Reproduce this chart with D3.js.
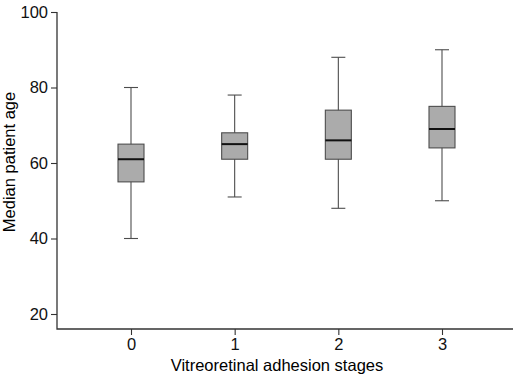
<!DOCTYPE html>
<html>
<head>
<meta charset="utf-8">
<script src="https://cdn.jsdelivr.net/npm/d3@7"></script>
<style>
  body { margin: 0; background: #fff; }
  text { font-family: "Liberation Sans", Arial, sans-serif; }
</style>
</head>
<body>
<div id="chart"></div>
<script>
// Data
const stages = ["0", "1", "2", "3"];
const whiskerLow = [40, 51, 48, 50];
const q1 = [55, 61, 61, 64];
const medians = [61, 65, 66, 69];
const q3 = [65, 68, 74, 75];
const whiskerHigh = [80, 78, 88, 90];
const yTicks = [20, 40, 60, 80, 100];

const width = 516, height = 376;
const svg = d3.select("#chart").append("svg")
    .attr("width", width)
    .attr("height", height);

// Scales
const x = d3.scaleLinear().domain([0, 3]).range([131, 442]);
const y = d3.scaleLinear().domain([20, 100]).range([314, 12]);
const axisLeft = 57, axisBottom = 329, axisRight = 513;

const boxes = stages.map((s, i) => ({
    stage: s, lo: whiskerLow[i], q1: q1[i], med: medians[i], q3: q3[i], hi: whiskerHigh[i], i: i
}));

const boxW = 26, capW = 14;
const lineColor = "#4d4d4d";

const g = svg.append("g");

// Whiskers
g.selectAll(".whisker")
    .data(boxes)
    .enter().append("line")
    .attr("x1", d => x(d.i)).attr("x2", d => x(d.i))
    .attr("y1", d => y(d.lo)).attr("y2", d => y(d.hi))
    .attr("stroke", lineColor).attr("stroke-width", 1.1);

// Caps
["lo", "hi"].forEach(k => {
    g.selectAll(".cap-" + k)
        .data(boxes)
        .enter().append("line")
        .attr("x1", d => x(d.i) - capW / 2).attr("x2", d => x(d.i) + capW / 2)
        .attr("y1", d => y(d[k])).attr("y2", d => y(d[k]))
        .attr("stroke", lineColor).attr("stroke-width", 1.1);
});

// Boxes
g.selectAll(".box")
    .data(boxes)
    .enter().append("rect")
    .attr("x", d => x(d.i) - boxW / 2)
    .attr("width", boxW)
    .attr("y", d => y(d.q3))
    .attr("height", d => y(d.q1) - y(d.q3))
    .attr("fill", "#ababab")
    .attr("stroke", lineColor)
    .attr("stroke-width", 1.1);

// Medians
g.selectAll(".median")
    .data(boxes)
    .enter().append("line")
    .attr("x1", d => x(d.i) - boxW / 2).attr("x2", d => x(d.i) + boxW / 2)
    .attr("y1", d => y(d.med)).attr("y2", d => y(d.med))
    .attr("stroke", "#111").attr("stroke-width", 2);

// Axes
const yAxis = svg.append("g")
    .attr("transform", `translate(${axisLeft},0)`)
    .call(d3.axisLeft(y).tickValues(yTicks).tickSize(6).tickPadding(3));
const xAxis = svg.append("g")
    .attr("transform", `translate(0,${axisBottom})`)
    .call(d3.axisBottom(x).tickValues([0, 1, 2, 3]).tickFormat((d, i) => stages[i]).tickSize(6).tickPadding(3));

[yAxis, xAxis].forEach(a => {
    a.select(".domain").remove();
    a.selectAll(".tick line").attr("stroke", "#333").attr("stroke-width", 1.1);
    a.selectAll(".tick text").attr("fill", "#111").style("font-size", "16.5px");
});

// Axis lines (L shape)
svg.append("path")
    .attr("d", `M${axisLeft},${y(100)}V${axisBottom}H${axisRight}`)
    .attr("fill", "none")
    .attr("stroke", "#333")
    .attr("stroke-width", 1.3);

// Titles
svg.append("text")
    .attr("x", 277)
    .attr("y", 371)
    .attr("text-anchor", "middle")
    .style("font-size", "16.5px")
    .attr("fill", "#000")
    .text("Vitreoretinal adhesion stages");

svg.append("text")
    .attr("transform", `translate(15,162) rotate(-90)`)
    .attr("text-anchor", "middle")
    .style("font-size", "16.5px")
    .attr("fill", "#000")
    .text("Median patient age");
</script>
</body>
</html>
